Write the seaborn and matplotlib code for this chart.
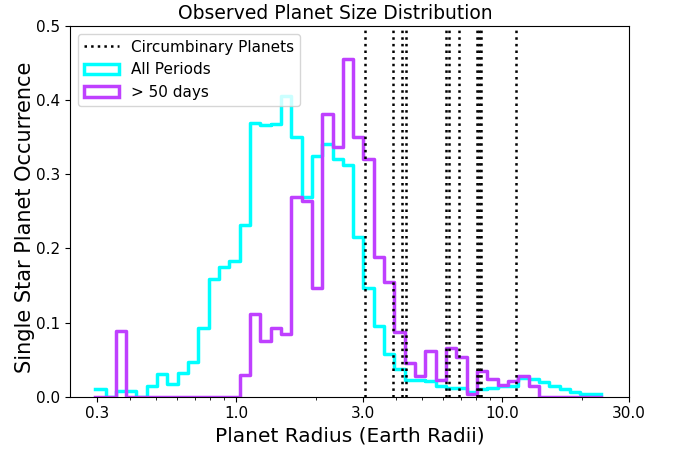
import numpy as np
import matplotlib
matplotlib.use('Agg')
import matplotlib.pyplot as plt
from matplotlib.patches import Patch
from matplotlib.lines import Line2D
from matplotlib.ticker import NullFormatter
import seaborn as sns

# Log-spaced radius bins (Earth radii)
r_min, r_max, n_bins = 0.296, 23.5, 49

# Single star planet occurrence per bin, all orbital periods
all_periods = [0.010, 0.0, 0.008, 0.008, 0.0, 0.014, 0.031, 0.017, 0.032, 0.047,
               0.093, 0.159, 0.175, 0.183, 0.231, 0.369, 0.367, 0.368, 0.406, 0.350,
               0.269, 0.324, 0.341, 0.320, 0.312, 0.215, 0.146, 0.095, 0.057, 0.037,
               0.023, 0.022, 0.021, 0.014, 0.012, 0.012, 0.007, 0.011, 0.012, 0.014,
               0.015, 0.025, 0.024, 0.020, 0.015, 0.010, 0.006, 0.003, 0.003]

# Same, only periods > 50 days
long_periods = [0.0, 0.0, 0.088, 0.0, 0.0, 0.0, 0.0, 0.0, 0.0, 0.0,
                0.0, 0.0, 0.0, 0.0, 0.029, 0.111, 0.075, 0.093, 0.084, 0.269,
                0.264, 0.146, 0.381, 0.337, 0.455, 0.350, 0.320, 0.189, 0.155, 0.087,
                0.045, 0.028, 0.061, 0.023, 0.066, 0.053, 0.004, 0.035, 0.024, 0.016,
                0.021, 0.028, 0.014, 0.0, 0.0, 0.0, 0.0, 0.0, 0.0]

# Radii of known circumbinary planets
circumbinary_radii = [3.05, 3.88, 4.22, 4.34, 6.14, 6.32, 6.89, 8.02, 8.20, 8.34, 11.26]

cyan = '#00FFFF'
purple = '#BF40FF'

log_lo, log_hi = np.log10(r_min), np.log10(r_max)
log_edges = np.linspace(log_lo, log_hi, n_bins + 1)
centers = 10 ** ((log_edges[:-1] + log_edges[1:]) / 2)

fig = plt.figure(figsize=(6.75, 4.5), dpi=100)
ax = fig.add_axes([0.1037, 0.1184, 0.8282, 0.8238])

sns.histplot(x=centers, weights=all_periods, bins=n_bins, binrange=(log_lo, log_hi),
             log_scale=True, element='step', fill=False, color=cyan, linewidth=2.5, ax=ax)
sns.histplot(x=centers, weights=long_periods, bins=n_bins, binrange=(log_lo, log_hi),
             log_scale=True, element='step', fill=False, color=purple, linewidth=2.5, ax=ax)

for r in circumbinary_radii:
    ax.axvline(r, color='black', linestyle=':', linewidth=1.8)

ax.set_xlim(0.238, 30)
ax.set_ylim(0, 0.5)
ax.set_xticks([0.3, 1.0, 3.0, 10.0, 30.0])
ax.set_xticklabels(['0.3', '1.0', '3.0', '10.0', '30.0'])
ax.xaxis.set_minor_formatter(NullFormatter())
ax.set_yticks([0.0, 0.1, 0.2, 0.3, 0.4, 0.5])
ax.tick_params(labelsize=11)

ax.set_title('Observed Planet Size Distribution', fontsize=13.5, x=0.475, pad=5)
ax.set_xlabel('Planet Radius (Earth Radii)', fontsize=14.5)
ax.set_ylabel('Single Star Planet Occurrence', fontsize=15)
ax.yaxis.set_label_coords(-0.062, 0.484)

handles = [Line2D([], [], color='black', linestyle=':', linewidth=1.8),
           Patch(facecolor='none', edgecolor=cyan, linewidth=2.5),
           Patch(facecolor='none', edgecolor=purple, linewidth=2.5)]
ax.legend(handles, ['Circumbinary Planets', 'All Periods', '> 50 days'],
          loc='upper left', fontsize=11, handlelength=2.3)

fig.savefig('out.png', dpi=100)
